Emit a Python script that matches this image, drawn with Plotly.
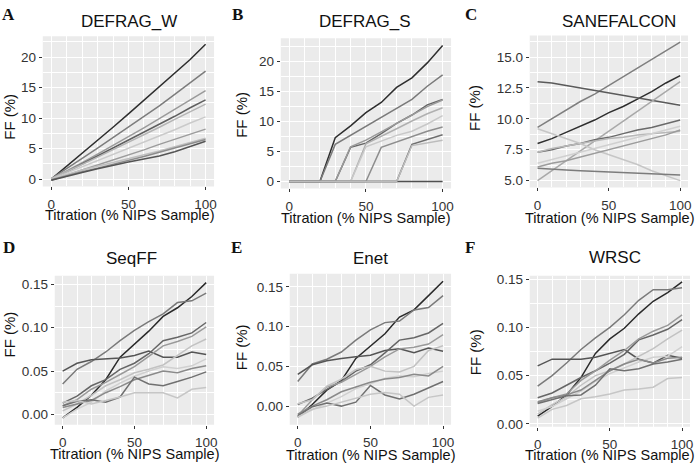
import plotly.graph_objects as go

# titration levels (% NIPS sample)
TITRATION = [0, 10, 20, 30, 40, 50, 60, 70, 80, 90, 100]

# FF (%) per sample line, one list per panel
DEFRAG_W = [
    [0.0, 2.1, 4.3, 6.4, 8.5, 10.7, 12.9, 15.1, 17.3, 19.6, 22.1],
    [0.1, 1.7, 3.4, 5.1, 6.8, 8.5, 10.3, 12.0, 13.9, 15.8, 17.7],
    [0.0, 1.3, 2.7, 4.1, 5.5, 6.9, 8.4, 9.9, 11.4, 12.9, 14.5],
    [-0.1, 1.2, 2.4, 3.7, 5.0, 6.3, 7.6, 9.0, 10.3, 11.7, 13.0],
    [0.1, 1.2, 2.4, 3.6, 4.8, 6.0, 7.2, 8.5, 9.8, 11.0, 12.3],
    [0.0, 1.0, 2.0, 3.0, 4.0, 5.1, 6.1, 7.1, 8.1, 9.2, 10.2],
    [-0.2, 0.7, 1.5, 2.3, 3.1, 4.0, 4.8, 5.7, 6.5, 7.4, 8.2],
    [0.0, 0.8, 1.5, 2.1, 2.7, 3.3, 3.9, 4.6, 5.3, 6.0, 6.7],
    [-0.1, 0.6, 1.2, 1.8, 2.4, 3.0, 3.7, 4.4, 5.1, 5.8, 6.5],
    [-0.2, 0.5, 1.1, 1.7, 2.3, 2.8, 3.3, 3.8, 4.5, 5.3, 6.2],
]
DEFRAG_S = [
    [0, 0, 0, 0, 0, 0, 0, 0, 0, 0, 0],
    [0, 0, 0, 7.3, 9.3, 11.5, 13.2, 15.7, 17.3, 19.8, 22.7],
    [0, 0, 0, 6.2, 7.7, 9.1, 10.6, 12.1, 13.7, 15.9, 17.8],
    [0, 0, 0, 0, 5.7, 6.4, 8.0, 9.7, 11.1, 12.8, 13.7],
    [0, 0, 0, 0, 5.8, 6.9, 8.3, 9.7, 11.0, 12.5, 13.6],
    [0, 0, 0, 0, 0, 6.3, 7.5, 8.8, 10.1, 11.3, 12.3],
    [0, 0, 0, 0, 0, 5.8, 6.8, 7.7, 8.4, 9.6, 11.0],
    [0, 0, 0, 0, 0, 0, 5.7, 6.6, 7.6, 8.4, 9.1],
    [0, 0, 0, 0, 0, 0, 0, 0, 6.2, 7.0, 7.8],
    [0, 0, 0, 0, 0, 0, 0, 0, 6.0, 6.5, 6.9],
]
SANEFALCON = [
    [9.3, 10.0, 10.7, 11.4, 12.0, 12.7, 13.4, 14.1, 14.8, 15.5, 16.2],
    [8.0, 8.4, 8.9, 9.4, 9.9, 10.5, 11.0, 11.6, 12.2, 12.9, 13.5],
    [13.0, 12.9, 12.7, 12.5, 12.3, 12.1, 11.9, 11.7, 11.5, 11.3, 11.1],
    [5.0, 5.8, 6.6, 7.4, 8.2, 9.0, 9.8, 10.6, 11.4, 12.2, 13.0],
    [7.3, 7.5, 7.8, 8.0, 8.3, 8.5, 8.8, 9.1, 9.3, 9.6, 9.9],
    [7.3, 7.6, 7.8, 8.0, 8.2, 8.4, 8.5, 8.7, 8.8, 8.9, 9.0],
    [9.2, 8.8, 8.4, 8.0, 7.5, 7.1, 6.7, 6.3, 5.8, 5.4, 5.0],
    [6.0, 5.9, 5.85, 5.8, 5.75, 5.75, 5.7, 5.65, 5.6, 5.55, 5.45],
    [6.4, 6.7, 7.0, 7.3, 7.6, 7.9, 8.2, 8.5, 8.8, 9.1, 9.4],
    [6.1, 6.4, 6.6, 6.9, 7.2, 7.5, 7.8, 8.1, 8.4, 8.7, 9.1],
]
SEQFF = [
    [-0.004, 0.008, 0.022, 0.040, 0.066, 0.081, 0.096, 0.113, 0.123, 0.136, 0.152],
    [0.035, 0.052, 0.061, 0.072, 0.085, 0.097, 0.107, 0.116, 0.129, 0.131, 0.140],
    [0.050, 0.059, 0.063, 0.064, 0.065, 0.068, 0.073, 0.066, 0.066, 0.072, 0.069],
    [0.013, 0.021, 0.033, 0.040, 0.052, 0.059, 0.070, 0.085, 0.089, 0.094, 0.106],
    [0.010, 0.017, 0.029, 0.037, 0.046, 0.055, 0.067, 0.079, 0.084, 0.090, 0.101],
    [0.004, 0.012, 0.022, 0.033, 0.040, 0.048, 0.052, 0.057, 0.068, 0.079, 0.087],
    [-0.004, 0.006, 0.014, 0.027, 0.036, 0.044, 0.050, 0.055, 0.053, 0.056, 0.064],
    [0.008, 0.012, 0.016, 0.025, 0.032, 0.040, 0.045, 0.050, 0.048, 0.053, 0.056],
    [0.010, 0.015, 0.017, 0.014, 0.020, 0.043, 0.035, 0.033, 0.038, 0.043, 0.049],
    [0.014, 0.016, 0.012, 0.016, 0.020, 0.025, 0.025, 0.025, 0.019, 0.029, 0.031],
]
ENET = [
    [-0.014, 0.002, 0.020, 0.032, 0.060, 0.075, 0.091, 0.112, 0.121, 0.139, 0.157],
    [0.031, 0.053, 0.059, 0.068, 0.083, 0.096, 0.105, 0.107, 0.121, 0.124, 0.139],
    [0.040, 0.052, 0.057, 0.060, 0.062, 0.064, 0.070, 0.072, 0.067, 0.073, 0.069],
    [0.002, 0.010, 0.021, 0.031, 0.044, 0.052, 0.067, 0.083, 0.086, 0.092, 0.104],
    [-0.012, 0.008, 0.024, 0.030, 0.040, 0.050, 0.062, 0.072, 0.074, 0.078, 0.090],
    [0.003, 0.008, 0.025, 0.034, 0.046, 0.050, 0.044, 0.043, 0.050, 0.070, 0.076],
    [-0.013, -0.005, 0.003, 0.012, 0.022, 0.028, 0.035, 0.038, 0.037, 0.041, 0.044],
    [-0.010, 0.000, 0.008, 0.018, 0.024, 0.030, 0.034, 0.036, 0.040, 0.038, 0.050],
    [-0.012, -0.001, 0.004, 0.000, 0.005, 0.026, 0.014, 0.009, 0.015, 0.023, 0.031],
    [-0.014, -0.004, 0.000, 0.005, 0.010, 0.015, 0.017, 0.015, 0.000, 0.011, 0.014],
]
WRSC = [
    [0.008, 0.018, 0.030, 0.048, 0.073, 0.088, 0.099, 0.114, 0.127, 0.136, 0.147],
    [0.039, 0.050, 0.063, 0.077, 0.089, 0.100, 0.113, 0.128, 0.139, 0.139, 0.141],
    [0.060, 0.067, 0.067, 0.067, 0.069, 0.073, 0.077, 0.067, 0.063, 0.071, 0.068],
    [0.027, 0.032, 0.040, 0.048, 0.055, 0.063, 0.072, 0.087, 0.092, 0.098, 0.108],
    [0.022, 0.027, 0.031, 0.045, 0.055, 0.066, 0.076, 0.088, 0.096, 0.102, 0.113],
    [0.010, 0.020, 0.028, 0.040, 0.050, 0.055, 0.062, 0.070, 0.078, 0.088, 0.097],
    [0.013, 0.018, 0.026, 0.034, 0.044, 0.052, 0.058, 0.064, 0.069, 0.070, 0.080],
    [0.023, 0.027, 0.030, 0.035, 0.045, 0.055, 0.062, 0.067, 0.063, 0.068, 0.069],
    [0.021, 0.025, 0.029, 0.030, 0.040, 0.057, 0.055, 0.057, 0.062, 0.064, 0.067],
    [0.006, 0.015, 0.019, 0.026, 0.028, 0.031, 0.035, 0.036, 0.038, 0.047, 0.048],
]

PANEL_TITLES = ["DEFRAG_W", "DEFRAG_S", "SANEFALCON", "SeqFF", "Enet", "WRSC"]
PANEL_LETTERS = ["A", "B", "C", "D", "E", "F"]
X_TICKS = [0, 50, 100]
Y_TICKS = [
    [0, 5, 10, 15, 20],
    [0, 5, 10, 15, 20],
    [5.0, 7.5, 10.0, 12.5, 15.0],
    [0.00, 0.05, 0.10, 0.15],
    [0.00, 0.05, 0.10, 0.15],
    [0.00, 0.05, 0.10, 0.15],
]
PANELS = [DEFRAG_W, DEFRAG_S, SANEFALCON, SEQFF, ENET, WRSC]

# grey shade per line (styling)
GREYS_A = ["#2e2e2e", "#7d7d7d", "#9a9a9a", "#5f5f5f", "#b4b4b4",
           "#cacaca", "#9c9c9c", "#bfbfbf", "#8c8c8c", "#545454"]
GREYS_B = ["#505050", "#2e2e2e", "#7a7a7a", "#666666", "#9a9a9a",
           "#b0b0b0", "#c8c8c8", "#8e8e8e", "#6e6e6e", "#bcbcbc"]
GREYS_C = ["#7f7f7f", "#2e2e2e", "#5a5a5a", "#a8a8a8", "#6a6a6a",
           "#b8b8b8", "#c6c6c6", "#7c7c7c", "#d0d0d0", "#9c9c9c"]
GREYS_DEF = ["#2a2a2a", "#7a7a7a", "#555555", "#666666", "#9a9a9a",
             "#c2c2c2", "#d0d0d0", "#8a8a8a", "#707070", "#c6c6c6"]
GREYS = [GREYS_A, GREYS_B, GREYS_C, GREYS_DEF, GREYS_DEF, GREYS_DEF]

W, H = 700, 470
FONT = "Liberation Sans, Arial, sans-serif"


def fx(px):
    return px / W


def fy(py):
    return 1 - py / H


# pixel boxes: left, top, right, bottom ; y range ; tick format
BOXES = [
    (43, 33, 215, 186, [-1.2, 23.4], "d"),
    (282, 35, 453, 188, [-1.15, 23.9], "d"),
    (532, 32, 691, 187, [4.45, 16.75], ".1f"),
    (55, 277, 215, 429, [-0.012, 0.160], ".2f"),
    (291, 275, 453, 429, [-0.0235, 0.1665], ".2f"),
    (532, 277, 693, 431, [-0.003, 0.1535], ".2f"),
]
TITLE_POS = [(130, 18), (367, 18), (622, 18), (132, 259), (372, 259), (618, 258)]
LETTER_POS = [(9, 11), (239, 11), (473, 11), (9, 248), (238, 248), (472, 248)]
YTITLE_POS = [(10, 115), (243, 113), (477, 106), (10, 337), (242, 350), (477, 355)]
XTITLE_POS = [(130, 215), (367, 218), (612, 218), (135, 459), (372, 460), (612, 460)]

fig = go.Figure()
annotations = []
layout = {}

for i, (data, greys) in enumerate(zip(PANELS, GREYS)):
    n = "" if i == 0 else str(i + 1)
    left, top, right, bottom, yrange, fmt = BOXES[i]
    for series, colour in zip(data, greys):
        fig.add_trace(go.Scatter(
            x=TITRATION, y=series, mode="lines",
            line=dict(color=colour, width=1.5),
            xaxis="x" + n, yaxis="y" + n,
            showlegend=False, hoverinfo="skip",
        ))
    ystep = Y_TICKS[i][1] - Y_TICKS[i][0]
    layout["xaxis" + n] = dict(
        domain=[fx(left), fx(right)], anchor="y" + n,
        range=[-5.5, 105.5], tickmode="array", tickvals=X_TICKS,
        showgrid=True, gridcolor="white", gridwidth=1.2,
        minor=dict(dtick=10, tick0=0, showgrid=True, gridcolor="white", gridwidth=0.8),
        ticks="outside", ticklen=3, tickcolor="#333333", tickwidth=1,
        ticklabelstandoff=2,
        tickfont=dict(family=FONT, size=13.5, color="#333333"),
        zeroline=False, showline=False, fixedrange=True,
    )
    layout["yaxis" + n] = dict(
        domain=[fy(bottom), fy(top)], anchor="x" + n,
        range=yrange, tickmode="array", tickvals=Y_TICKS[i],
        tickformat=fmt,
        showgrid=True, gridcolor="white", gridwidth=1.2,
        minor=dict(dtick=ystep / 2, tick0=Y_TICKS[i][0], showgrid=True,
                   gridcolor="white", gridwidth=0.8),
        ticks="outside", ticklen=3, tickcolor="#333333", tickwidth=1,
        tickfont=dict(family=FONT, size=13.5, color="#333333"),
        zeroline=False, showline=False, fixedrange=True,
    )
    # grey panel background
    fig.add_shape(type="rect", xref="paper", yref="paper",
                  x0=fx(left), x1=fx(right), y0=fy(bottom), y1=fy(top),
                  fillcolor="#EBEBEB", line=dict(width=0), layer="below")

    tx, ty = TITLE_POS[i]
    annotations.append(dict(text=PANEL_TITLES[i], x=fx(tx), y=fy(ty),
                            xref="paper", yref="paper", showarrow=False,
                            xanchor="center", yanchor="middle",
                            font=dict(family=FONT, size=17, color="#111111")))
    lx, ly = LETTER_POS[i]
    annotations.append(dict(text="<b>" + PANEL_LETTERS[i] + "</b>", x=fx(lx), y=fy(ly),
                            xref="paper", yref="paper", showarrow=False,
                            xanchor="center", yanchor="middle",
                            font=dict(family="Liberation Serif, Times New Roman, serif",
                                      size=17, color="#111111")))
    ax, ay = YTITLE_POS[i]
    annotations.append(dict(text="FF (%)", x=fx(ax), y=fy(ay), textangle=-90,
                            xref="paper", yref="paper", showarrow=False,
                            xanchor="center", yanchor="middle",
                            font=dict(family=FONT, size=15, color="#111111")))
    bx, by = XTITLE_POS[i]
    annotations.append(dict(text="Titration (% NIPS Sample)", x=fx(bx), y=fy(by),
                            xref="paper", yref="paper", showarrow=False,
                            xanchor="center", yanchor="middle",
                            font=dict(family=FONT, size=14.5, color="#111111")))

fig.update_layout(
    width=W, height=H,
    margin=dict(l=0, r=0, t=0, b=0),
    paper_bgcolor="white", plot_bgcolor="rgba(0,0,0,0)",
    annotations=annotations,
    **layout,
)

# drop the browser's default body margin so the figure sits at the page corner
fig.write_html("out.html", config={"displayModeBar": False},
               post_script="document.body.style.margin = '0';")
